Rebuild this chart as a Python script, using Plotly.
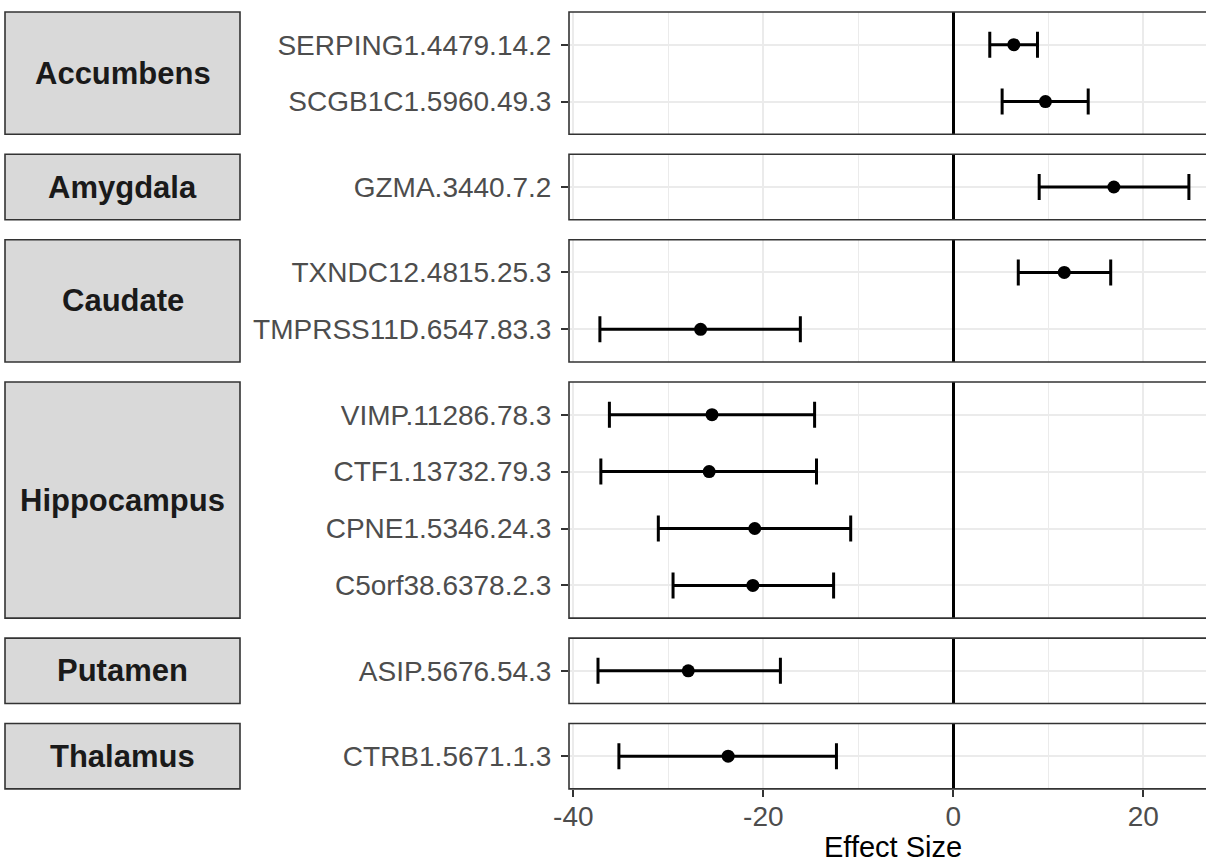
import plotly.graph_objects as go

# ---------------- data ----------------
region = ["Accumbens", "Accumbens", "Amygdala", "Caudate", "Caudate",
          "Hippocampus", "Hippocampus", "Hippocampus", "Hippocampus",
          "Putamen", "Thalamus"]
protein = ["SERPING1.4479.14.2", "SCGB1C1.5960.49.3", "GZMA.3440.7.2",
           "TXNDC12.4815.25.3", "TMPRSS11D.6547.83.3",
           "VIMP.11286.78.3", "CTF1.13732.79.3", "CPNE1.5346.24.3", "C5orf38.6378.2.3",
           "ASIP.5676.54.3", "CTRB1.5671.1.3"]
effect = [6.37, 9.7, 16.9, 11.68, -26.6, -25.4, -25.7, -20.9, -21.1, -27.9, -23.7]
ci_low = [3.84, 5.14, 9.04, 6.84, -37.2, -36.2, -37.1, -31.05, -29.5, -37.4, -35.2]
ci_high = [8.86, 14.2, 24.8, 16.57, -16.1, -14.6, -14.4, -10.8, -12.6, -18.2, -12.3]
region_order = ["Accumbens", "Amygdala", "Caudate", "Hippocampus", "Putamen", "Thalamus"]
x_ticks = [-40, -20, 0, 20]
x_tick_labels = ["-40", "-20", "0", "20"]
x_minor = [-30, -10, 10]
x_title = "Effect Size"

# ---------------- layout constants (pixels) ----------------
W, H = 1206, 865
panel_left = 569
panel_top = 12
row_unit = 56.9
row_pad = 32.7
gap = 20.0
zero_px = 953.3
px_per_unit = 9.5
strip_x0, strip_x1 = 5, 240

FONT = "Liberation Sans, Arial, Helvetica, sans-serif"
BORDER = "#333333"
GRID = "#EBEBEB"

x_range = [(panel_left - zero_px) / px_per_unit, (W - zero_px) / px_per_unit]

fig = go.Figure()
shapes = []
annotations = []
layout_axes = {}

top = panel_top
nreg = len(region_order)
for i, reg in enumerate(region_order, start=1):
    idx = [k for k, r in enumerate(region) if r == reg]
    cats = [protein[k] for k in idx]
    n = len(cats)
    h = row_unit * (n - 1) + 2 * row_pad
    bot = top + h
    dom = [1 - bot / H, 1 - top / H]
    xs = [effect[k] for k in idx]
    plus = [ci_high[k] - effect[k] for k in idx]
    minus = [effect[k] - ci_low[k] for k in idx]
    suffix = "" if i == 1 else str(i)
    fig.add_trace(go.Scatter(
        x=xs, y=cats, mode="markers",
        marker=dict(color="black", size=13),
        error_x=dict(type="data", symmetric=False, array=plus, arrayminus=minus,
                     color="black", thickness=3, width=13),
        xaxis="x" + suffix, yaxis="y" + suffix, showlegend=False,
        hoverinfo="x+y"))
    last = (i == nreg)
    xa = dict(
        domain=[panel_left / W, 1], range=x_range, anchor="y" + suffix,
        tickmode="array", tickvals=x_ticks, ticktext=x_tick_labels,
        showgrid=True, gridcolor=GRID, gridwidth=2,
        minor=dict(tickmode="array", tickvals=x_minor, showgrid=True,
                   gridcolor=GRID, gridwidth=1.2, ticks=""),
        zeroline=True, zerolinecolor="black", zerolinewidth=2.5,
        showline=False, automargin=False,
        showticklabels=last, ticks="outside" if last else "",
        ticklen=7, tickwidth=2, tickcolor=BORDER,
        tickfont=dict(family=FONT, size=28, color="#4D4D4D"),
        ticklabelstandoff=-5,
    )
    if i > 1:
        xa["matches"] = "x"
    ya = dict(
        domain=dom, anchor="x" + suffix, type="category",
        categoryorder="array", categoryarray=cats,
        range=[n - 1 + row_pad / row_unit, -row_pad / row_unit],
        showgrid=True, gridcolor=GRID, gridwidth=2,
        zeroline=False, showline=False, automargin=False,
        ticks="outside", ticklen=7, tickwidth=2, tickcolor=BORDER,
        tickfont=dict(family=FONT, size=28, color="#4D4D4D"),
        ticklabelstandoff=4,
    )
    layout_axes["xaxis" + suffix] = xa
    layout_axes["yaxis" + suffix] = ya

    # panel border (right side lies beyond the cropped edge)
    shapes.append(dict(type="rect", xref="paper", yref="paper",
                       x0=panel_left / W, x1=1.02, y0=dom[0], y1=dom[1],
                       line=dict(color=BORDER, width=1.6), fillcolor="rgba(0,0,0,0)",
                       layer="above"))
    # strip
    shapes.append(dict(type="rect", xref="paper", yref="paper",
                       x0=strip_x0 / W, x1=strip_x1 / W, y0=dom[0], y1=dom[1],
                       line=dict(color=BORDER, width=1.6), fillcolor="#D9D9D9",
                       layer="above"))
    annotations.append(dict(text="<b>%s</b>" % reg, xref="paper", yref="paper",
                            x=(strip_x0 + strip_x1) / 2 / W, y=(dom[0] + dom[1]) / 2,
                            xanchor="center", yanchor="middle", showarrow=False,
                            font=dict(family=FONT, size=31, color="#1A1A1A")))
    top = bot + gap

annotations.append(dict(text=x_title, xref="paper", yref="paper",
                        x=893 / W, y=1 - 847 / H, xanchor="center", yanchor="middle",
                        showarrow=False, font=dict(family=FONT, size=29, color="black")))

fig.update_layout(
    width=W, height=H, template="none",
    margin=dict(l=0, r=0, t=0, b=0, pad=0),
    paper_bgcolor="white", plot_bgcolor="white",
    font=dict(family=FONT),
    shapes=shapes, annotations=annotations, showlegend=False,
    **layout_axes,
)

fig.write_html("out.html",
               config={"displayModeBar": False},
               post_script="document.body.style.margin='0';"
                           "document.body.style.overflow='hidden';"
                           "document.documentElement.style.overflow='hidden';")
